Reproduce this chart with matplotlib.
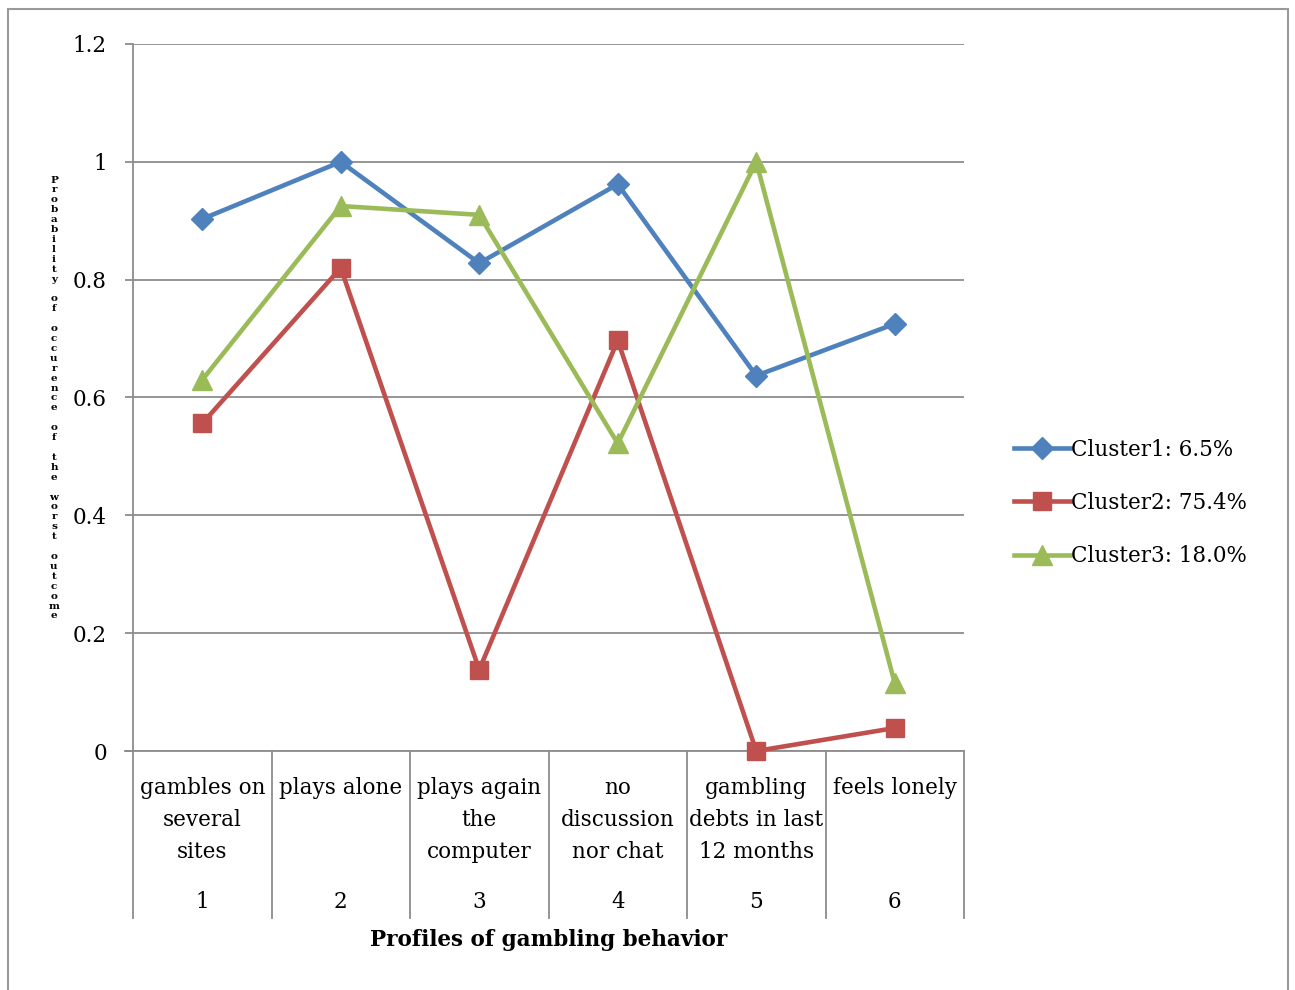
import matplotlib
matplotlib.use("Agg")
import matplotlib.pyplot as plt
from matplotlib.lines import Line2D
from matplotlib.patches import Rectangle

# Data
positions = [1, 2, 3, 4, 5, 6]
profile_labels = [
    "gambles on\nseveral\nsites",
    "plays alone",
    "plays again\nthe\ncomputer",
    "no\ndiscussion\nnor chat",
    "gambling\ndebts in last\n12 months",
    "feels lonely",
]
cluster_names = ["Cluster1: 6.5%", "Cluster2: 75.4%", "Cluster3: 18.0%"]
cluster1 = [0.903, 1.0, 0.828, 0.962, 0.637, 0.725]
cluster2 = [0.556, 0.820, 0.138, 0.697, 0.0, 0.039]
cluster3 = [0.630, 0.925, 0.910, 0.522, 1.0, 0.115]
y_ticks = [0, 0.2, 0.4, 0.6, 0.8, 1.0, 1.2]
y_tick_labels = ["0", "0.2", "0.4", "0.6", "0.8", "1", "1.2"]
y_title = "Probability of occurence of the worst outcome"

plt.rcParams["font.family"] = ["DejaVu Serif"]

W, H = 1295, 990
fig = plt.figure(figsize=(W / 100, H / 100), dpi=100)

# outer frame
fig.add_artist(Rectangle((8 / W, -0.01), (1288 - 8) / W, 1.01 - 9 / H,
                         transform=fig.transFigure, fill=False,
                         edgecolor="#9a9a9a", linewidth=1.5))

left, right, top, bottom = 133, 964, 44, 751
ax = fig.add_axes([left / W, 1 - bottom / H, (right - left) / W, (bottom - top) / H])

grid_col = "#8c8c8c"
fs = 15.5
styles = [
    ("#4F81BD", "D", 11.5),
    ("#C0504D", "s", 13),
    ("#9BBB59", "^", 14),
]
handles = []
for vals, name, (col, mk, ms) in zip([cluster1, cluster2, cluster3], cluster_names, styles):
    ax.plot(positions, vals, color=col, lw=3.3, marker=mk, ms=ms,
            markeredgecolor=col, clip_on=False, zorder=3)
    handles.append(Line2D([], [], color=col, lw=3.3, marker=mk, ms=ms,
                          markeredgecolor=col, label=name))

ax.set_xlim(0.5, 6.5)
ax.set_ylim(0, 1.2)
ax.set_yticks(y_ticks)
ax.set_yticklabels(y_tick_labels, fontsize=fs)
ax.yaxis.grid(True, color=grid_col, lw=1.3)
ax.set_axisbelow(True)
ax.tick_params(axis="y", length=5.8, width=1.3, color=grid_col, pad=13)
ax.set_xticks([])
for s in ["top", "right"]:
    ax.spines[s].set_visible(False)
ax.spines["left"].set_color(grid_col)
ax.spines["left"].set_linewidth(1.3)
ax.spines["bottom"].set_color(grid_col)
ax.spines["bottom"].set_linewidth(1.3)

# category table below the axis
trans = ax.get_xaxis_transform()
axis_h = bottom - top
ext = (918 - bottom) / axis_h
for b in [0.5 + i for i in range(7)]:
    ax.add_line(Line2D([b, b], [0, -ext], transform=trans, color=grid_col,
                       lw=1.3, clip_on=False))
ax.add_line(Line2D([0.5 - 8 / 138.5, 0.5], [0, 0], transform=trans,
                   color=grid_col, lw=1.3, clip_on=False))
for p, lab in zip(positions, profile_labels):
    ax.text(p, -(777 - bottom) / axis_h, lab, transform=trans, ha="center",
            va="top", fontsize=fs, linespacing=1.58)
    ax.text(p, -(902 - bottom) / axis_h, str(p), transform=trans, ha="center",
            va="center", fontsize=fs)

fig.text((left + right) / 2 / W, 1 - 940 / H, "Profiles of gambling behavior",
         ha="center", va="center", fontsize=fs, fontweight="bold")

# stacked vertical axis title, one character per row
y0, y1 = 180, 616
step = (y1 - y0) / (len(y_title) - 1)
for i, ch in enumerate(y_title):
    if ch != " ":
        fig.text(54 / W, 1 - (y0 + i * step) / H, ch, ha="center",
                 va="center", fontsize=7.5, fontweight="bold")

fig.legend(handles=handles, loc="center left",
           bbox_to_anchor=(1005 / W, 1 - 503 / H), frameon=False,
           fontsize=fs, handlelength=2.6, handletextpad=0.05,
           labelspacing=1.45, borderaxespad=0)

fig.savefig("out.png", dpi=100, facecolor="white")
